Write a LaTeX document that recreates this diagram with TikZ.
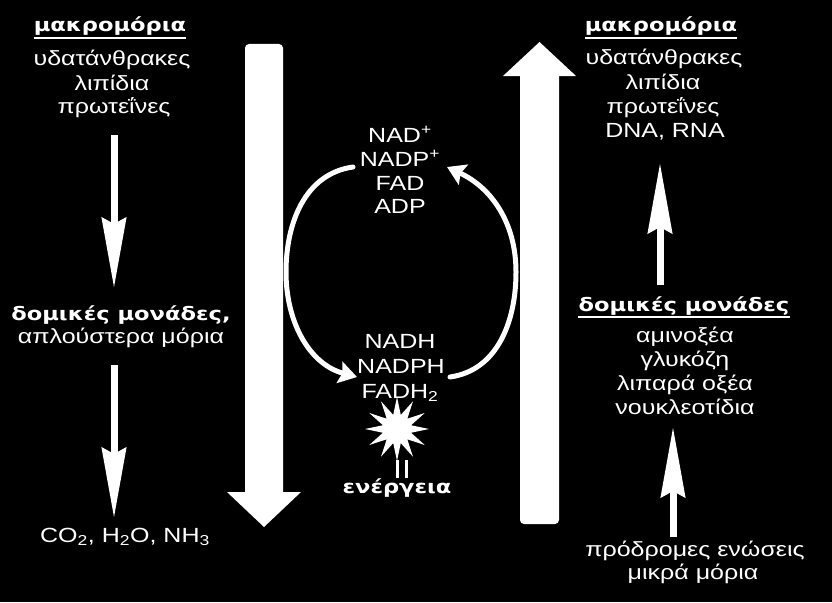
\documentclass[tikz,border=0pt]{standalone}
\usepackage{fontspec}
\setmainfont[FakeStretch=1.22]{Liberation Sans}
\newfontfamily\titlefont[FakeStretch=1.22,BoldFont={DejaVu Sans Bold}]{DejaVu Sans}
\usetikzlibrary{arrows.meta,shapes.geometric}
\tikzset{
  txt/.style={text=white, anchor=base, inner sep=0pt, font=\fontsize{20.5}{24}\selectfont},
  ttl/.style={text=white, anchor=base, inner sep=0pt, font=\titlefont\bfseries\fontsize{18.5}{22}\selectfont},
  ul/.style={draw=white, line width=2pt},
  thinarrow/.style={draw=white, line width=7pt, -{Stealth[length=70pt,width=24pt,inset=6pt]}},
  cyclearrow/.style={draw=white, line width=5pt, line cap=round, -{Stealth[length=18pt,width=22pt,inset=3pt]}},
  bigarrow/.style={fill=white},
}
\begin{document}
\begin{tikzpicture}[x=1pt,y=-1pt]
\fill[black] (0,0) rectangle (832,602);
\useasboundingbox (0,0) rectangle (832,602);

% big arrows
\fill[bigarrow] (227,492) [sharp corners] -- (245,492) [rounded corners=4pt] -- (245,44) -- (283,44) [sharp corners] -- (283,492) -- (301,492) -- (264,527) -- cycle;
\fill[bigarrow] (503,76) [sharp corners] -- (520,76) [rounded corners=4pt] -- (520,524) -- (559,524) [sharp corners] -- (559,76) -- (576,76) -- (539.5,42) -- cycle;

% left column
\node[ttl] (lt) at (110,32) {μακρομόρια};
\draw[ul] ([yshift=-1.5pt]lt.south west) -- ([yshift=-1.5pt]lt.south east);
\node[txt] (l1) at (112,66) {υδατάνθρακες};
\node[txt] (l2) at (112,90) {λιπίδια};
\node[txt] (l3) at (114,113) {πρωτεΐνες};
\node[ttl] (lm) at (121,320) {δομικές μονάδες,};
\node[txt] (lm2) at (121,343) {απλούστερα μόρια};
\node[txt] (lp) at (125,542) {CO\textsubscript{2}, H\textsubscript{2}O, NH\textsubscript{3}};
\coordinate (la1) at (114,135);
\coordinate (la2) at (114,288);
\coordinate (la3) at (114,365);
\coordinate (la4) at (114,518);
\draw[thinarrow] (la1) -- (la2);
\draw[thinarrow] (la3) -- (la4);

% right column
\node[ttl] (rt) at (661,32) {μακρομόρια};
\draw[ul] ([yshift=-1.5pt]rt.south west) -- ([yshift=-1.5pt]rt.south east);
\node[txt] (r1) at (664,65) {υδατάνθρακες};
\node[txt] (r2) at (663,89) {λιπίδια};
\node[txt] (r3) at (663,113) {πρωτεΐνες};
\node[txt] (r4) at (665,137) {DNA, RNA};
\node[ttl] (rm) at (684,311) {δομικές μονάδες};
\draw[ul] ([yshift=-1.5pt]rm.south west) -- ([yshift=-1.5pt]rm.south east);
\node[txt] (rm1) at (685,342) {αμινοξέα};
\node[txt] (rm2) at (685,366) {γλυκόζη};
\node[txt] (rm3) at (685,390) {λιπαρά οξέα};
\node[txt] (rm4) at (685,414) {νουκλεοτίδια};
\node[txt] (rp1) at (695,556) {πρόδρομες ενώσεις};
\node[txt] (rp2) at (693,579) {μικρά μόρια};
\coordinate (ra1) at (660,285);
\coordinate (ra2) at (660,163);
\coordinate (ra3) at (673,537);
\coordinate (ra4) at (673,427);
\draw[thinarrow] (ra1) -- (ra2);
\draw[thinarrow] (ra3) -- (ra4);

% center
\node[txt] (c1) at (400,142) {NAD\textsuperscript{+}};
\node[txt] (c2) at (400,166) {NADP\textsuperscript{+}};
\node[txt] (c3) at (400,190) {FAD};
\node[txt] (c4) at (400,213) {ADP};
\node[txt] (d1) at (400,348) {NADH};
\node[txt] (d2) at (401,373) {NADPH};
\node[txt] (d3) at (400,398) {FADH\textsubscript{2}};
\node[star, star points=12, star point ratio=2.2, fill=white, minimum size=64pt, inner sep=0pt] (st) at (397,429) {};
\coordinate (eq1a) at (397,460);
\coordinate (eq1b) at (397,478);
\coordinate (eq2a) at (406,460);
\coordinate (eq2b) at (406,478);
\draw[white, line width=3pt] (eq1a) -- (eq1b);
\draw[white, line width=3pt] (eq2a) -- (eq2b);
\node[ttl] (en) at (397,493) {ενέργεια};

\coordinate (cl1) at (353,167);
\coordinate (clm) at (286,272);
\coordinate (cl2) at (357,377);
\coordinate (cr1) at (450,377);
\coordinate (crm) at (516,272);
\coordinate (cr2) at (447,167);
\draw[cyclearrow] (cl1) to[out=188,in=90] (clm) to[out=-90,in=165] (cl2);
\draw[cyclearrow] (cr1) to[out=8,in=-90] (crm) to[out=90,in=-25] (cr2);
\end{tikzpicture}
\end{document}
